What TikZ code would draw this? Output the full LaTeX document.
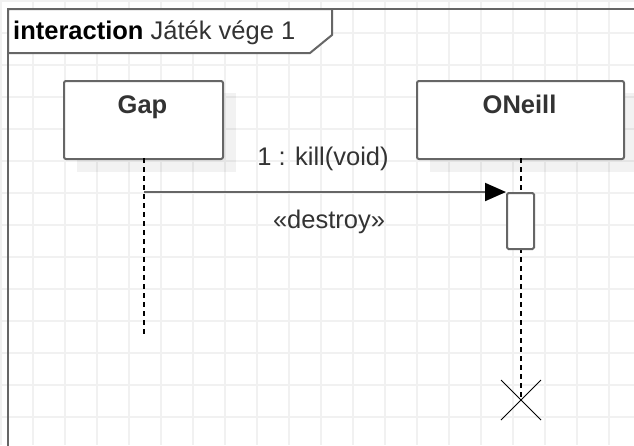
\documentclass[tikz,border=0pt]{standalone}
\usepackage{fontspec}
\setmainfont{Liberation Sans}
\usetikzlibrary{arrows.meta,calc}
\definecolor{edgegray}{RGB}{102,102,102}
\definecolor{gridgray}{RGB}{241,241,241}
\definecolor{textgray}{RGB}{51,51,51}
\newcommand{\diagfont}{\fontsize{25.5}{29}\selectfont}
\begin{document}
\begin{tikzpicture}[x=1pt,y=-1pt,
  lbl/.style={font=\diagfont, text=textgray, inner sep=0pt},
  headlbl/.style={font=\diagfont\bfseries, text=textgray, inner sep=0pt, anchor=base},
  lifebox/.style={draw=edgegray, line width=2pt, fill=white, rounded corners=2pt,
    minimum height=78pt, anchor=north west, inner sep=0pt},
  shade/.style={fill=black, fill opacity=0.05, draw=none},
  lifeline/.style={black, line width=1.4pt, dash pattern=on 5pt off 4pt},
  actbox/.style={draw=edgegray, line width=2pt, fill=white, rounded corners=1.5pt},
  msg/.style={draw=edgegray, line width=2pt, -{Triangle[length=21pt,width=18pt,fill=black,color=black]}},
  frameline/.style={draw=edgegray, line width=2pt}
]
\useasboundingbox (0,0) rectangle (634,445);
% background grid
\fill[white] (0,0) rectangle (634,445);
\foreach \k in {0,...,19} {
  \draw[gridgray, line width=1.6pt] ({1+32*\k},0) -- ({1+32*\k},445);
}
\foreach \k in {0,...,13} {
  \draw[gridgray, line width=1.6pt] (0,{1+32*\k}) -- (634,{1+32*\k});
}
% interaction frame and its name tab
\draw[frameline] (8,460) -- (8,9) -- (650,9);
\filldraw[frameline, fill=white] (8,9) -- (332,9) -- (332,35) -- (310,53) -- (8,53) -- cycle;
\node[lbl, anchor=base west, text=black] (title) at (13,39)
  {\textbf{interaction} {\color{textgray}Játék vége 1}};
% drop shadows of the lifeline heads
\fill[shade] (77,93) rectangle (236,172);
\fill[shade] (430,93) rectangle (637,172);
% lifeline heads
\node[lifebox, minimum width=159pt] (gap) at (63,80) {};
\node[headlbl] (gaplbl) at (142.5,113) {Gap};
\node[lifebox, minimum width=207pt] (oneill) at (416,80) {};
\node[headlbl] (oneilllbl) at (519.5,113) {ONeill};
% lifelines
\coordinate (gaptop) at (144,158);
\coordinate (gapend) at (144,335);
\coordinate (ontop) at (521,158);
\coordinate (onend) at (521,400);
\draw[lifeline] (gaptop) -- (gapend);
\draw[lifeline] (ontop) -- (onend);
% activation bar
\node[actbox, minimum width=27pt, minimum height=56pt, inner sep=0pt, anchor=north west] (act) at (506,192) {};
% message
\coordinate (msgstart) at (144,192);
\draw[msg] (msgstart) -- (act.north west);
\node[lbl, anchor=base] (msglbl) at (323,165) {1 : kill(void)};
\node[lbl, anchor=base] (destroylbl) at (329,228) {«destroy»};
% destruction mark
\draw[black, line width=1pt] ($(onend)+(-20,-20)$) -- ($(onend)+(20,20)$);
\draw[black, line width=1pt] ($(onend)+(20,-20)$) -- ($(onend)+(-20,20)$);
\end{tikzpicture}
\end{document}
